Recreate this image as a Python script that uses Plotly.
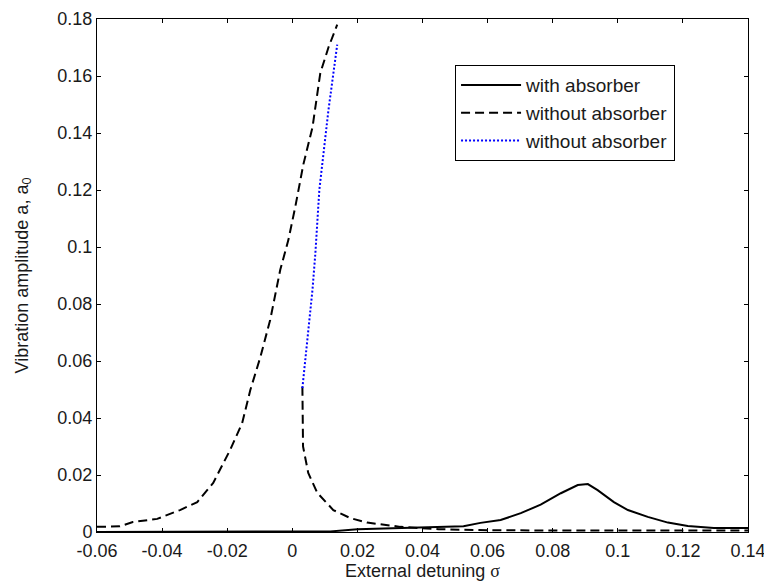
import plotly.graph_objects as go

# "with absorber" (solid)
with_x = [-0.06, -0.03, 0.0, 0.0117, 0.02, 0.033, 0.045, 0.0526, 0.0578, 0.064, 0.0702, 0.0763,
          0.0825, 0.0877, 0.0908, 0.0938, 0.0988, 0.1031, 0.1092, 0.1154, 0.1215, 0.1295, 0.14]
with_y = [0.0, 0.0, 0.0, 0.0002, 0.001, 0.0014, 0.0017, 0.002, 0.0032, 0.0042, 0.0066, 0.0096,
          0.0136, 0.0165, 0.0168, 0.0147, 0.0105, 0.0077, 0.0053, 0.0033, 0.0021, 0.0014, 0.0014]

# "without absorber" stable branches (dashed): upper branch, then lower branch
wo_upper_x = [-0.06, -0.053, -0.049, -0.0415, -0.0345, -0.0292, -0.0243, -0.0191, -0.0154, -0.0129,
              -0.0098, -0.0068, -0.0037, -0.0012, 0.0009, 0.0034, 0.0062, 0.0086, 0.0111, 0.0138]
wo_upper_y = [0.0018, 0.002, 0.0035, 0.0046, 0.0077, 0.0105, 0.0172, 0.0288, 0.0382, 0.0498,
              0.0614, 0.0744, 0.092, 0.1025, 0.114, 0.129, 0.142, 0.161, 0.170, 0.178]
wo_lower_x = [0.0031, 0.0033, 0.0049, 0.0077, 0.0126, 0.0178, 0.023, 0.0332, 0.045, 0.06, 0.1, 0.14]
wo_lower_y = [0.051, 0.030, 0.0207, 0.0137, 0.0077, 0.0049, 0.0033, 0.0018, 0.0010, 0.0006, 0.0005, 0.0005]

# "without absorber" unstable branch (blue dotted)
unst_x = [0.0031, 0.0046, 0.0062, 0.0071, 0.0083, 0.0111, 0.0138]
unst_y = [0.0505, 0.0674, 0.085, 0.098, 0.12, 0.148, 0.171]

x_ticks = [-0.06, -0.04, -0.02, 0, 0.02, 0.04, 0.06, 0.08, 0.1, 0.12, 0.14]
x_ticktext = ["-0.06", "-0.04", "-0.02", "0", "0.02", "0.04", "0.06", "0.08", "0.1", "0.12", "0.14"]
y_ticks = [0, 0.02, 0.04, 0.06, 0.08, 0.1, 0.12, 0.14, 0.16, 0.18]
y_ticktext = ["0", "0.02", "0.04", "0.06", "0.08", "0.1", "0.12", "0.14", "0.16", "0.18"]

FONT = "Liberation Sans, Arial, sans-serif"
FS = 18
TXT = "#1a1a1a"

fig = go.Figure()
fig.add_trace(go.Scatter(x=with_x, y=with_y, mode="lines", name="with absorber",
                         legendgroup="a", line=dict(color="black", width=2)))
fig.add_trace(go.Scatter(x=wo_upper_x + [None] + wo_lower_x, y=wo_upper_y + [None] + wo_lower_y,
                         mode="lines", name="without absorber", connectgaps=False, legendgroup="b",
                         line=dict(color="black", width=2, dash="9px,5px")))
fig.add_trace(go.Scatter(x=unst_x, y=unst_y, mode="lines", name="without absorber",
                         legendgroup="c", line=dict(color="#0000ff", width=2, dash="2px,2px")))

axis_common = dict(showline=True, linecolor="black", linewidth=1, mirror="ticks",
                   ticks="inside", ticklen=4, tickcolor="black", showgrid=False, zeroline=False,
                   automargin=False,
                   tickfont=dict(family=FONT, size=FS, color=TXT))

fig.update_xaxes(range=[-0.06, 0.14], tickvals=x_ticks, ticktext=x_ticktext, ticklabelstandoff=2,
                 title=dict(text='External detuning <span style="font-family:Liberation Serif">σ</span>',
                            font=dict(family=FONT, size=FS, color=TXT), standoff=2),
                 **axis_common)
fig.update_yaxes(range=[0, 0.18], tickvals=y_ticks, ticktext=y_ticktext,
                 title=dict(text="Vibration amplitude a, a<sub>0</sub>",
                            font=dict(family=FONT, size=FS, color=TXT), standoff=24),
                 **axis_common)

# page body has an 8px default margin, so the figure is offset by (8, 8)
fig.update_layout(
    width=772, height=588,
    margin=dict(l=89, r=32, t=11, b=64, autoexpand=False),
    paper_bgcolor="white", plot_bgcolor="white",
    font=dict(family=FONT, size=FS, color=TXT),
    legend=dict(x=0.55, y=0.91, xanchor="left", yanchor="top",
                bgcolor="white", bordercolor="black", borderwidth=1,
                font=dict(family=FONT, size=19, color=TXT),
                itemwidth=60, tracegroupgap=0),
    showlegend=True,
)

fig.write_html("out.html")
